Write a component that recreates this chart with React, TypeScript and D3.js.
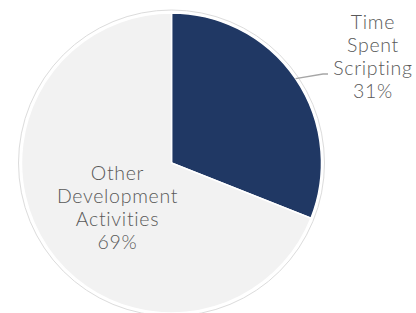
import React from 'react'
import * as d3 from 'd3'

const categories = ['Time Spent Scripting', 'Other Development Activities']
const values = [31, 69]
const labelLines = [
  ['Time', 'Spent', 'Scripting', '31%'],
  ['Other', 'Development', 'Activities', '69%']
]
const colors = ['#203864', '#f2f2f2']

function App() {
  const width = 416
  const height = 313
  const cx = 171.5
  const cy = 163
  const radius = 150
  const font = 'Lato, "Open Sans", sans-serif'
  const lineH = 23

  const pie = d3.pie<number>().sort(null)
  const arcs = pie(values)
  const arcGen = d3.arc<d3.PieArcDatum<number>>().innerRadius(0).outerRadius(radius)

  // leader line for the small slice
  const a0 = arcs[0]
  const mid = (a0.startAngle + a0.endAngle) / 2
  const p0 = [Math.sin(mid) * radius, -Math.cos(mid) * radius]
  const elbow = [151.5, -89]
  const end = [156.5, -89]

  const textStyle = { letterSpacing: '0.7px' }

  return (
    <svg width={width} height={height} style={{ position: 'absolute', left: 0, top: 0 }}>
      <rect width={width} height={height} fill="#ffffff" />
      <g transform={`translate(${cx},${cy})`}>
        <circle r={radius + 3} fill="none" stroke="#dcdcdc" strokeWidth={1} />
        {arcs.map((d, i) => (
          <path key={categories[i]} d={arcGen(d) || ''} fill={colors[i]} stroke="#ffffff" strokeWidth={1.5} strokeLinejoin="round" />
        ))}
        <polyline
          points={`${p0[0]},${p0[1]} ${elbow[0]},${elbow[1]} ${end[0]},${end[1]}`}
          fill="none"
          stroke="#a6a6a6"
          strokeWidth={1.3}
        />
      </g>
      <text x={373} y={29} textAnchor="middle" fontFamily={font} fontSize={19.5} fontWeight={300} fill="#595959" style={textStyle}>
        {labelLines[0].map((t, i) => (
          <tspan key={t} x={373} dy={i === 0 ? 0 : lineH}>{t}</tspan>
        ))}
      </text>
      <text x={117.5} y={180} textAnchor="middle" fontFamily={font} fontSize={19.5} fontWeight={300} fill="#595959" style={textStyle}>
        {labelLines[1].map((t, i) => (
          <tspan key={t} x={117.5} dy={i === 0 ? 0 : lineH}>{t}</tspan>
        ))}
      </text>
    </svg>
  )
}

export default App
